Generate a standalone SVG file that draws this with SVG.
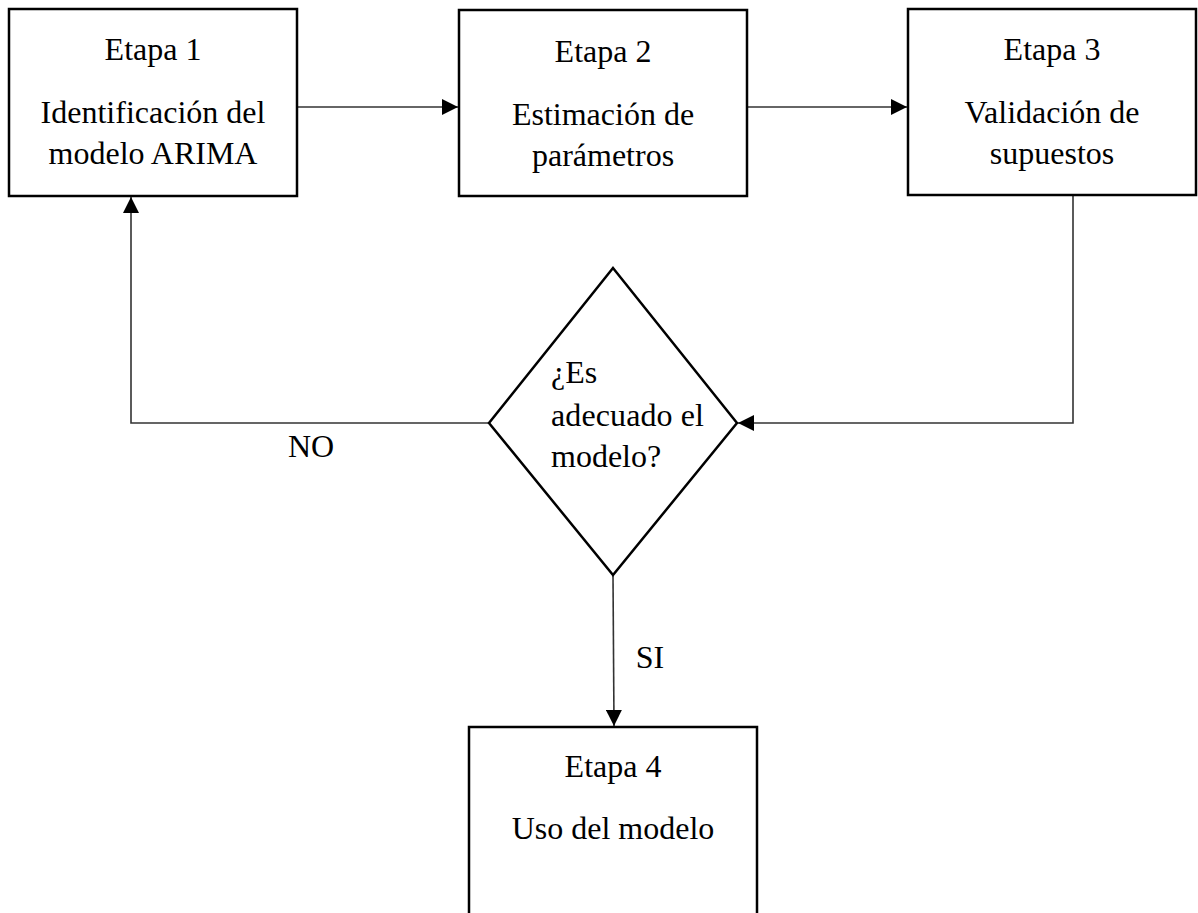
<svg xmlns="http://www.w3.org/2000/svg" width="1198" height="913" viewBox="0 0 1198 913">
<style>
.box{fill:#fff;stroke:#000;stroke-width:2.5}
.t{font-family:'Liberation Serif','DejaVu Serif',serif;font-size:32px;fill:#000}
.c{text-anchor:middle}
.ln{fill:none;stroke:#333;stroke-width:1.6}
</style>
<defs>
<marker id="ah" markerUnits="userSpaceOnUse" markerWidth="16" markerHeight="16" viewBox="0 0 16 16" refX="16" refY="8" orient="auto">
<path d="M0,0 L16,8 L0,16 Z" fill="#000"/>
</marker>
</defs>
<rect width="1198" height="913" fill="#fff"/>
<g id="connectors">
<line class="ln" x1="298" y1="107" x2="458" y2="107" marker-end="url(#ah)"/>
<line class="ln" x1="748" y1="107" x2="907" y2="107" marker-end="url(#ah)"/>
<polyline class="ln" points="1073,196 1073,423 738,423" marker-end="url(#ah)"/>
<polyline class="ln" points="489,423 131,423 131,197" marker-end="url(#ah)"/>
<line class="ln" x1="613" y1="576" x2="614" y2="726" marker-end="url(#ah)"/>
<text class="t c" x="311" y="457" font-family="Liberation Serif">NO</text>
<text class="t c" x="650" y="668" font-family="Liberation Serif">SI</text>
</g>
<g id="etapa1">
<rect class="box" x="9" y="9" width="288" height="187"/>
<text class="t c" x="153" y="60">Etapa 1</text>
<text class="t c" x="153" y="123">Identificación del</text>
<text class="t c" x="153" y="164">modelo ARIMA</text>
</g>
<g id="etapa2">
<rect class="box" x="459" y="10" width="288" height="186"/>
<text class="t c" x="603" y="62">Etapa 2</text>
<text class="t c" x="603" y="125">Estimación de</text>
<text class="t c" x="603" y="166">parámetros</text>
</g>
<g id="etapa3">
<rect class="box" x="908" y="9" width="288" height="186"/>
<text class="t c" x="1052" y="60">Etapa 3</text>
<text class="t c" x="1052" y="123">Validación de</text>
<text class="t c" x="1052" y="164">supuestos</text>
</g>
<g id="decision">
<polygon class="box" points="613,268 737,423 613,575 489,423"/>
<text class="t" x="551" y="383">¿Es</text>
<text class="t" x="551" y="426" textLength="153" lengthAdjust="spacing">adecuado el</text>
<text class="t" x="551" y="467">modelo?</text>
</g>
<g id="etapa4">
<rect class="box" x="469" y="727" width="288" height="200"/>
<text class="t c" x="613" y="777">Etapa 4</text>
<text class="t c" x="613" y="839">Uso del modelo</text>
</g>
</svg>
